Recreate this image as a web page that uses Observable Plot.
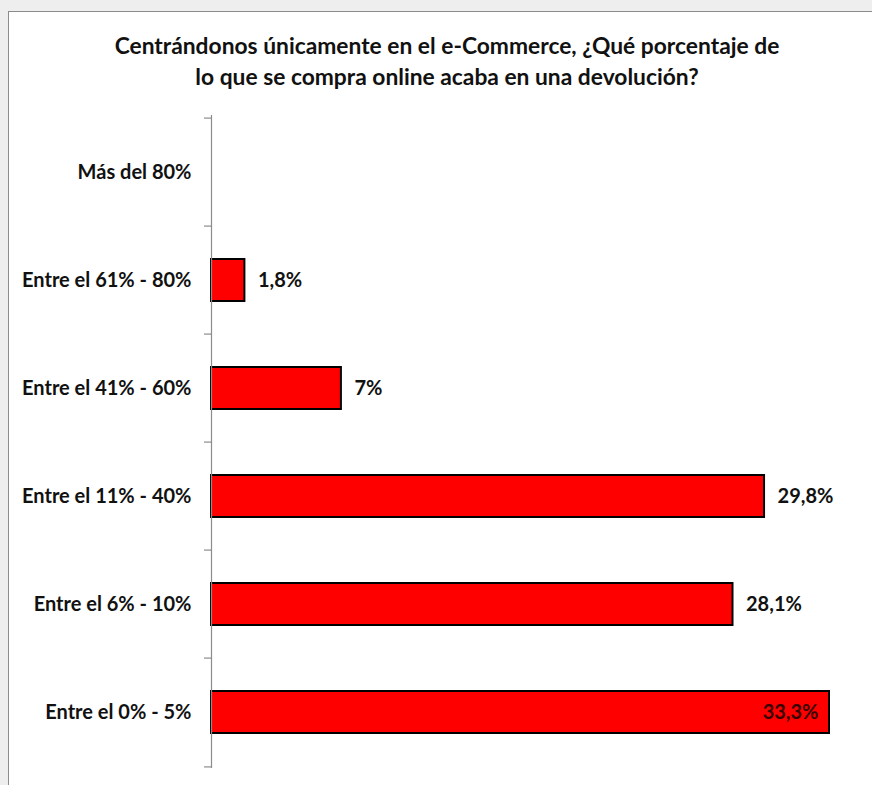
<!DOCTYPE html>
<html>
<head>
<meta charset="utf-8">
<script src="https://cdn.jsdelivr.net/npm/d3@7"></script>
<script src="https://cdn.jsdelivr.net/npm/@observablehq/plot@0.6"></script>
<style>
  html, body { margin: 0; padding: 0; }
  body { width: 872px; height: 785px; overflow: hidden; background: #eeeeee; font-family: Lato, "Open Sans", sans-serif; }
  #wrap { position: relative; width: 872px; height: 785px; }
  #frame { position: absolute; left: 8px; top: 11px; width: 900px; height: 800px; background: #ffffff; border: 1px solid #8c8c8c; box-sizing: border-box; }
  #title { position: absolute; left: 0; top: 30px; width: 894px; text-align: center; font-family: Lato, sans-serif; font-weight: bold; font-size: 22.8px; line-height: 31px; color: #111; }
  #chart { position: absolute; left: 0; top: 0; }
</style>
</head>
<body>
<div id="wrap">
  <div id="frame"></div>
  <div id="title">Centrándonos únicamente en el e-Commerce, ¿Qué porcentaje de<br>lo que se compra online acaba en una devolución?</div>
  <div id="chart"></div>
</div>
<script>
const categories = ["Más del 80%", "Entre el 61% - 80%", "Entre el 41% - 60%", "Entre el 11% - 40%", "Entre el 6% - 10%", "Entre el 0% - 5%"];
const values = [null, 1.8, 7, 29.8, 28.1, 33.3];
const valueLabels = ["", "1,8%", "7%", "29,8%", "28,1%", "33,3%"];

const W = 872, H = 785;
const mTop = 115, mBottom = 17, mLeft = 211, mRight = 43;
const maxV = d3.max(values);
const bw = (H - mTop - mBottom) / categories.length;
const pxPerUnit = (W - mLeft - mRight) / maxV;

const data = categories.map((c, i) => ({category: c, value: values[i], label: valueLabels[i]}));
const bars = data.filter(d => d.value != null);
const outside = bars.filter(d => d.value !== maxV);
const inside = bars.filter(d => d.value === maxV);

const chart = Plot.plot({
  width: W,
  height: H,
  marginTop: mTop,
  marginBottom: mBottom,
  marginLeft: mLeft,
  marginRight: mRight,
  style: {background: "transparent", fontFamily: "Lato, sans-serif", color: "#000"},
  x: {domain: [0, maxV], axis: null},
  y: {domain: categories, padding: 0, label: null},
  marks: [
    Plot.barX(bars, {y: "category", x: "value", fill: "#ff0000", stroke: "#000", strokeWidth: 2, insetTop: 33, insetBottom: 33}),
    Plot.ruleX([0], {stroke: "#8c8c8c", strokeWidth: 1.2}),
    Plot.ruleY(categories, {y: d => d, x1: -7 / pxPerUnit, x2: 0, dy: -bw / 2, stroke: "#8c8c8c", strokeWidth: 1.2}),
    Plot.ruleY(categories.slice(-1), {y: d => d, x1: -7 / pxPerUnit, x2: 0, dy: bw / 2, stroke: "#8c8c8c", strokeWidth: 1.2}),
    Plot.axisY({tickSize: 0, tickPadding: 20, fontSize: 20, fontWeight: "bold", fill: "#111", label: null}),
    Plot.text(outside, {y: "category", x: "value", text: "label", textAnchor: "start", dx: 13, fontSize: 20, fontWeight: "bold", fill: "#111"}),
    Plot.text(inside, {y: "category", x: "value", text: "label", textAnchor: "end", dx: -11, fontSize: 20, fontWeight: "bold", fill: "#3a0000"})
  ]
});
document.getElementById("chart").appendChild(chart);
</script>
</body>
</html>
